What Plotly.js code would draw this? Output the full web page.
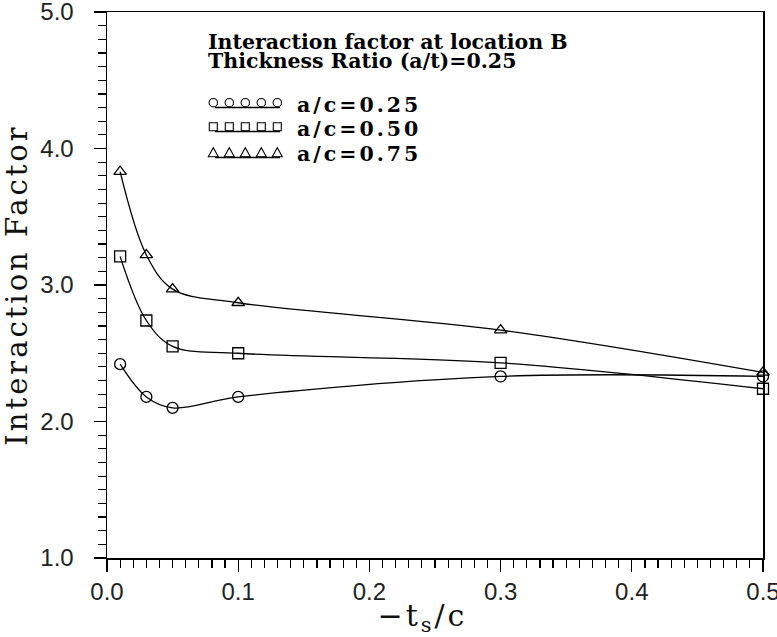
<!DOCTYPE html>
<html>
<head>
<meta charset="utf-8">
<script src="https://cdn.plot.ly/plotly-3.0.1.min.js"></script>
<style>
  html, body { margin: 0; padding: 0; background: #fff; }
  #chart { width: 777px; height: 637px; }
  /* wide-set lettering for titles and key labels */
  #chart .ytitle { letter-spacing: 3px; }
  #chart .annotation[data-index="2"] text,
  #chart .annotation[data-index="3"] text,
  #chart .annotation[data-index="4"] text { letter-spacing: 3px; }
  #chart .annotation[data-index="5"] text { letter-spacing: 3px; }
</style>
</head>
<body>
<div id="chart"></div>
<script>
// Crack spacing ratio -ts/c
const spacing = [0.01, 0.03, 0.05, 0.1, 0.3, 0.5];

// Interaction factor at location B, one series per aspect ratio a/c
const ac025 = [2.42, 2.18, 2.10, 2.18, 2.33, 2.33];
const ac050 = [3.21, 2.74, 2.55, 2.50, 2.43, 2.24];
const ac075 = [3.83, 3.22, 2.97, 2.87, 2.67, 2.36];

const seriesNames = ['a/c=0.25', 'a/c=0.50', 'a/c=0.75'];
const headerLines = ['Interaction factor at location B', 'Thickness Ratio (a/t)=0.25'];
const xTitle = '\u2212t<sub>s</sub>/c';
const yTitle = 'Interaction Factor';

// plot frame in pixels
const W = 777, H = 637;
const M = { l: 107, r: 14, t: 12, b: 79 };
const PW = W - M.l - M.r, PH = H - M.t - M.b;
const px = p => (p - M.l) / PW;          // pixel x -> paper x
const py = p => 1 - (p - M.t) / PH;      // pixel y -> paper y

function series(y, symbol, name) {
  return {
    x: spacing, y: y, name: name,
    type: 'scatter', mode: 'lines+markers',
    line: { shape: 'spline', smoothing: 1, color: '#000', width: 1.3 },
    marker: { symbol: symbol, size: 11, color: '#000', line: { color: '#000', width: 1.3 } },
    cliponaxis: false,
    showlegend: false
  };
}

const traces = [
  series(ac025, 'circle-open', seriesNames[0]),
  series(ac050, 'square-open', seriesNames[1]),
  series(ac075, 'triangle-up-open', seriesNames[2])
];

// key block: header text, rows of five glyphs with an underline, and the label
const serif = 'DejaVu Serif';
const keyFont = { family: serif, size: 20.5, color: '#000', weight: 'bold' };
const annotations = [];
const shapes = [];
headerLines.forEach((t, i) => {
  annotations.push({
    text: t, xref: 'paper', yref: 'paper',
    x: px(206), y: py([42, 61][i]), xanchor: 'left', yanchor: 'middle',
    showarrow: false, font: keyFont
  });
});
const rowY = [102.7, 126.7, 152.7];
const glyphs = ['circle', 'square', 'triangle'];
rowY.forEach((cy, r) => {
  for (let k = 0; k < 5; k++) {
    const cx = 213.3 + 16 * k;
    const g = glyphs[r];
    const stroke = { color: '#000', width: 1.1 };
    if (g === 'circle') {
      shapes.push({ type: 'circle', xref: 'paper', yref: 'paper',
        x0: px(cx - 4.2), x1: px(cx + 4.2), y0: py(cy + 4.2), y1: py(cy - 4.2), line: stroke });
    } else if (g === 'square') {
      shapes.push({ type: 'rect', xref: 'paper', yref: 'paper',
        x0: px(cx - 4), x1: px(cx + 4), y0: py(cy + 4), y1: py(cy - 4), line: stroke });
    } else {
      shapes.push({ type: 'path', xref: 'paper', yref: 'paper',
        path: `M ${px(cx - 5)},${py(cy + 4)} L ${px(cx + 5)},${py(cy + 4)} L ${px(cx)},${py(cy - 5)} Z`,
        line: stroke });
    }
  }
  shapes.push({ type: 'line', xref: 'paper', yref: 'paper',
    x0: px(215), x1: px(280), y0: py(cy + 4.8), y1: py(cy + 4.8),
    line: { color: '#000', width: 1.3 } });
  annotations.push({
    text: seriesNames[r], xref: 'paper', yref: 'paper',
    x: px(307), y: py(cy + 1.8), xanchor: 'left', yanchor: 'middle',
    showarrow: false, font: keyFont
  });
});

// horizontal axis caption
annotations.push({
  text: xTitle, xref: 'paper', yref: 'paper',
  x: px(422), y: py(617), xanchor: 'center', yanchor: 'middle',
  showarrow: false, font: { family: serif, size: 30, color: '#111' }
});

const tickFont = { family: 'Liberation Sans', size: 24, color: '#222' };
const axisCommon = {
  showgrid: false, zeroline: false,
  showline: true, linecolor: '#000', linewidth: 1.5, mirror: true,
  ticks: 'outside', ticklen: 12, tickwidth: 1.3, tickcolor: '#000',
  tickfont: tickFont, tickformat: '.1f', ticklabeloverflow: 'allow'
};

const layout = {
  width: W, height: H,
  margin: M,
  paper_bgcolor: '#fff', plot_bgcolor: '#fff',
  xaxis: Object.assign({}, axisCommon, {
    range: [0, 0.5], dtick: 0.1, tick0: 0,
    minor: { dtick: 0.01, ticks: 'outside', ticklen: 8, tickwidth: 1.2, tickcolor: '#000', showgrid: false }
  }),
  yaxis: Object.assign({}, axisCommon, {
    range: [1, 5], dtick: 1, tick0: 1,
    ticklabelstandoff: 15,
    minor: { dtick: 0.1, ticks: 'outside', ticklen: 8, tickwidth: 1.2, tickcolor: '#000', showgrid: false },
    title: { text: yTitle, font: { family: serif, size: 29, color: '#111' }, standoff: 8 }
  }),
  annotations: annotations,
  shapes: shapes,
  showlegend: false
};

Plotly.newPlot('chart', traces, layout, { staticPlot: true, displayModeBar: false });
</script>
</body>
</html>
